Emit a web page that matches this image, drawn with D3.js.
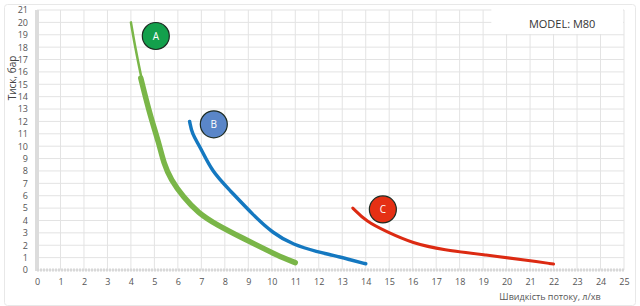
<!DOCTYPE html>
<html>
<head>
<meta charset="utf-8">
<script src="https://cdn.jsdelivr.net/npm/d3@7"></script>
<style>
  body { margin: 0; background: #fff; }
  svg { display: block; font-family: "Open Sans", "Noto Sans", sans-serif; }
</style>
</head>
<body>
<div id="chart-area"></div>
<script>
// flow (l/min) vs pressure (bar)
var curveATop = [[4.0, 20], [4.2, 17.8], [4.45, 15.5]];
var curveA = [[4.42, 15.5], [4.8, 12.6], [5.2, 10.2], [5.4, 8.6], [5.7, 7.3], [6.23, 5.9],
              [6.87, 4.6], [7.65, 3.65], [8.78, 2.55], [9.77, 1.62], [10.5, 0.95], [11.0, 0.6]];
var curveB = [[6.5, 12], [6.6, 11.0], [6.95, 9.95], [7.45, 7.95], [8.21, 6.45], [9.2, 4.45],
              [10.06, 2.95], [10.9, 2.05], [11.97, 1.45], [12.6, 1.2], [13.3, 0.85], [14.0, 0.5]];
var curveC = [[13.45, 5.0], [14.03, 3.9], [14.88, 3.1], [16.0, 2.15], [17.3, 1.62],
              [19.15, 1.2], [20.85, 0.8], [22.0, 0.48]];

var badges = [
  {label: "A", x: 5.06, y: 18.9, fill: "#13a04c"},
  {label: "B", x: 7.53, y: 11.77, fill: "#5a86c8"},
  {label: "C", x: 14.73, y: 4.89, fill: "#e53014"}
];

var xTicks = d3.range(0, 26);
var yTicks = d3.range(0, 22);

var W = 640, H = 306;
var margin = {left: 37, right: 16, top: 10, bottom: 36};
var width = W - margin.left - margin.right,
    height = H - margin.top - margin.bottom;

var svg = d3.select("#chart-area")
    .append("svg")
        .attr("width", W)
        .attr("height", H);

// outer frame
svg.append("rect")
    .attr("x", 4.5).attr("y", 4.5)
    .attr("width", W - 9).attr("height", H - 5)
    .attr("rx", 3)
    .attr("fill", "#fff")
    .attr("stroke", "#e8e8e8");

var g = svg.append("g")
    .attr("transform", "translate(" + margin.left + ", " + margin.top + ")");

var x = d3.scaleLinear().domain([0, 25]).range([0, width]);
var y = d3.scaleLinear().domain([0, 21]).range([height, 0]);

// grid
g.append("g").selectAll("line").data(xTicks).enter().append("line")
    .attr("x1", d => x(d)).attr("x2", d => x(d))
    .attr("y1", 0).attr("y2", height)
    .attr("stroke", "#e3e3e3").attr("stroke-width", 1);
g.append("g").selectAll("line").data(yTicks).enter().append("line")
    .attr("x1", 0).attr("x2", width)
    .attr("y1", d => y(d)).attr("y2", d => y(d))
    .attr("stroke", "#e3e3e3").attr("stroke-width", 1);

// white box behind model label
g.append("rect")
    .attr("x", x(19.35)).attr("y", -1)
    .attr("width", x(25) - x(19.35) - 1).attr("height", 25)
    .attr("fill", "#fff");
g.append("text")
    .attr("x", x(20.95)).attr("y", 18)
    .attr("font-size", "11px")
    .attr("fill", "#333")
    .text("MODEL: M80");

// axis lines
g.append("line")
    .attr("x1", 0).attr("x2", 0).attr("y1", 0).attr("y2", height + 1)
    .attr("stroke", "#dcdcdc").attr("stroke-width", 4);
g.append("line")
    .attr("x1", 0).attr("x2", width).attr("y1", height).attr("y2", height)
    .attr("stroke", "#d8d8d8").attr("stroke-width", 3)
    .attr("stroke-dasharray", "2,1");

// axes
var xAxisCall = d3.axisBottom(x).tickValues(xTicks).tickSize(0).tickPadding(9);
var xAxis = g.append("g")
    .attr("class", "x axis")
    .attr("transform", "translate(0, " + height + ")")
    .call(xAxisCall);
var yAxisCall = d3.axisLeft(y).tickValues(yTicks).tickSize(0).tickPadding(9);
var yAxis = g.append("g")
    .attr("class", "y axis")
    .call(yAxisCall);
[xAxis, yAxis].forEach(function(a){
    a.select(".domain").remove();
    a.selectAll("text")
        .attr("font-family", "\"Open Sans\", sans-serif")
        .attr("font-size", "9px")
        .attr("fill", "#555");
});

// labels
svg.append("text")
    .attr("transform", "translate(16, 78) rotate(-90)")
    .attr("text-anchor", "middle")
    .attr("font-size", "10px")
    .attr("fill", "#444")
    .text("Тиск, бар");
svg.append("text")
    .attr("x", 550).attr("y", 300)
    .attr("text-anchor", "middle")
    .attr("font-size", "9px")
    .attr("fill", "#555")
    .text("Швидкість потоку, л/хв");

// curves
var line = d3.line()
    .x(d => x(d[0]))
    .y(d => y(d[1]))
    .curve(d3.curveBasis);

var series = [
    {data: curveATop, color: "#7ab648", w: 2.5},
    {data: curveA, color: "#7ab648", w: 5.5},
    {data: curveB, color: "#1478c0", w: 3.5},
    {data: curveC, color: "#dc2a12", w: 3}
];
g.selectAll("path.curve").data(series).enter().append("path")
    .attr("class", "curve")
    .attr("d", d => line(d.data))
    .attr("fill", "none")
    .attr("stroke", d => d.color)
    .attr("stroke-width", d => d.w)
    .attr("stroke-linecap", "round");

// badges
var b = g.selectAll("g.badge").data(badges).enter().append("g")
    .attr("class", "badge")
    .attr("transform", d => "translate(" + x(d.x) + "," + y(d.y) + ")");
b.append("circle")
    .attr("r", 13.5)
    .attr("fill", d => d.fill)
    .attr("stroke", "#1d2b22")
    .attr("stroke-width", 1.2);
b.append("text")
    .attr("text-anchor", "middle")
    .attr("dy", "0.35em")
    .attr("font-size", "10px")
    .attr("fill", "#fff")
    .text(d => d.label);
</script>
</body>
</html>
